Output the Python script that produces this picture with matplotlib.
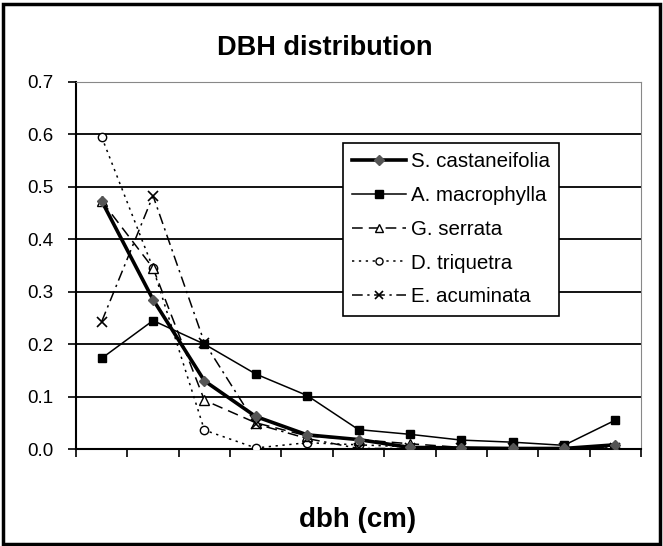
import matplotlib
matplotlib.use("Agg")
import matplotlib.pyplot as plt
import numpy as np

plt.rcParams['font.family'] = ['Liberation Sans', 'DejaVu Sans']

# dbh classes (unlabelled on the x axis)
n_classes = 11
species = ["S. castaneifolia", "A. macrophylla", "G. serrata",
           "D. triquetra", "E. acuminata"]

s_castaneifolia = [0.473, 0.285, 0.130, 0.062, 0.027, 0.018, 0.003, 0.002, 0.001, 0.001, 0.008]
a_macrophylla = [0.173, 0.245, 0.200, 0.143, 0.102, 0.037, 0.028, 0.017, 0.013, 0.007, 0.055]
g_serrata = [0.473, 0.345, 0.093, 0.050, 0.025, 0.018, 0.010, 0.003, 0.001, 0.001, 0.003]
d_triquetra = [0.595, 0.345, 0.036, 0.002, 0.012, 0.008, 0.004, 0.002, 0.001, 0.001, 0.002]
e_acuminata = [0.243, 0.483, 0.203, 0.048, 0.020, 0.001, 0.001, 0.001, 0.001, 0.001, 0.002]

yticks = [0.0, 0.1, 0.2, 0.3, 0.4, 0.5, 0.6, 0.7]

fig = plt.figure(figsize=(6.63, 5.46), dpi=100)
ax = fig.add_axes([76/663, 1 - 449/546, (641-76)/663, (449-82)/546])

x = np.arange(n_classes) + 0.5

ax.plot(x, s_castaneifolia, color='black', lw=2.6, marker='D', ms=5.5,
        mfc='#555555', mec='#555555', label=species[0], zorder=6)
ax.plot(x, a_macrophylla, color='black', lw=1.1, marker='s', ms=6,
        mfc='black', mec='black', label=species[1], zorder=5)
ax.plot(x, g_serrata, color='black', lw=1.1, ls=(0, (7, 4)), marker='^', ms=7,
        mfc='white', mec='black', mew=1.0, label=species[2], zorder=4)
ax.plot(x, d_triquetra, color='black', lw=1.1, ls=(0, (1.5, 3)), marker='o', ms=6,
        mfc='white', mec='black', mew=1.0, label=species[3], zorder=3)
ax.plot(x, e_acuminata, color='black', lw=1.1, ls=(0, (7, 3, 1.5, 3)), marker='x', ms=7,
        mec='black', mew=1.2, label=species[4], zorder=4)

ax.set_xlim(0, n_classes)
ax.set_ylim(0, 0.7)
ax.set_yticks(yticks)
ax.set_yticklabels(["%.1f" % v for v in yticks], fontsize=13.5)
ax.set_xticks(np.arange(n_classes + 1))
ax.set_xticklabels([])
ax.tick_params(axis='y', direction='out', length=6, width=1.2, pad=10)
ax.tick_params(axis='x', direction='out', length=6, width=1.2)

for v in yticks[1:]:
    ax.axhline(v, color='black', lw=1.3, zorder=1)

ax.spines['left'].set_linewidth(1.5)
ax.spines['bottom'].set_linewidth(1.5)
ax.spines['top'].set_color('#888888')
ax.spines['right'].set_color('#888888')

leg = ax.legend(loc='upper left', bbox_to_anchor=((343-76)/565, (449-143)/367),
                fontsize=14.8, frameon=True, fancybox=False, edgecolor='black',
                framealpha=1, borderpad=0.45, labelspacing=0.72, handlelength=2.6,
                handletextpad=0.25, borderaxespad=0, markerscale=0.85)
leg.get_frame().set_linewidth(1.2)

fig.text(0.49, 1 - 48/546, "DBH distribution", ha='center', va='center',
         fontsize=19.5, fontweight='bold')
fig.text(358/663, 1 - 520/546, "dbh (cm)", ha='center', va='center',
         fontsize=20, fontweight='bold')

border = plt.Rectangle((0.004, 0.004), 0.992, 0.989, transform=fig.transFigure,
                       fill=False, edgecolor='black', lw=2.5)
fig.patches.append(border)

fig.savefig("out.png", dpi=100)
